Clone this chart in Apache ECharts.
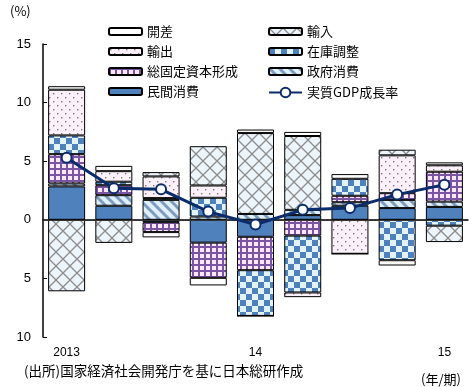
<!DOCTYPE html>
<html>
<head>
<meta charset="utf-8">
<script src="https://cdn.jsdelivr.net/npm/echarts@6/dist/echarts.min.js"></script>
<style>
html,body{margin:0;padding:0;background:#fff;}
#chart{width:474px;height:387px;}
</style>
</head>
<body>
<div id="chart"></div>
<script>
// ---- data ----
var categories = ['2013Q1','2013Q2','2013Q3','2013Q4','2014Q1','2014Q2','2014Q3','2014Q4','2015Q1'];
var tickLabels = ['2013','','','','14','','','','15'];
var privateCons   = [2.85, 1.2, -0.2, -1.95, -1.45, 0.4, 1.2, 1.0, 1.1];
var govCons       = [0.25, 0.9, 1.7, 0.28, 0.5, 0.45, 0.3, 0.7, 0.45];
var gfcf          = [2.5, 0.85, -0.85, -3.0, -2.85, -1.35, 0.55, 0.57, 2.55];
var inventory     = [1.6, 0.3, 0.15, 1.6, -3.9, -4.85, 1.45, -3.45, -0.5];
var exportsC      = [3.9, 0.9, 1.85, 1.05, 0, -0.4, -2.9, 3.23, 0.55];
var importsC      = [-6.1, -1.97, 0.37, 3.35, 6.9, 6.3, 0, 0.48, -1.4];
var discrepancy   = [0.3, 0.45, -0.45, -0.65, 0.3, 0.35, 0.4, -0.45, 0.25];
var gdpGrowth     = [5.3, 2.7, 2.6, 0.7, -0.4, 0.85, 1.0, 2.15, 3.0];
var yTicks = [-10, -5, 0, 5, 10, 15];

// ---- patterns ----
function pat(size, draw) {
  var c = document.createElement('canvas');
  c.width = size; c.height = size;
  var ctx = c.getContext('2d');
  draw(ctx, size);
  return { image: c, repeat: 'repeat' };
}
var pImports = pat(14, function (ctx, s) {
  ctx.fillStyle = '#edf5fc'; ctx.fillRect(0, 0, s, s);
  ctx.strokeStyle = '#8c8c8c'; ctx.lineWidth = 1.3;
  ctx.beginPath();
  ctx.moveTo(0, 0); ctx.lineTo(s, s);
  ctx.moveTo(0, s); ctx.lineTo(s, 0);
  ctx.stroke();
});
var pExports = pat(8, function (ctx, s) {
  ctx.fillStyle = '#fcf1fb'; ctx.fillRect(0, 0, s, s);
  ctx.fillStyle = '#7a7a7a';
  ctx.fillRect(1, 1, 1.4, 1.4);
  ctx.fillRect(5, 5, 1.4, 1.4);
});
var pInventory = pat(12, function (ctx, s) {
  ctx.fillStyle = '#e2f3fc'; ctx.fillRect(0, 0, s, s);
  ctx.fillStyle = '#4f81bd';
  ctx.fillRect(0, 0, 6, 6);
  ctx.fillRect(6, 6, 6, 6);
});
var pGfcf = pat(6, function (ctx, s) {
  ctx.fillStyle = '#fde8fb'; ctx.fillRect(0, 0, s, s);
  ctx.fillStyle = '#7a55a3';
  ctx.fillRect(0, 0, s, 2);
  ctx.fillRect(0, 0, 2, s);
});
var pGov = pat(10, function (ctx, s) {
  ctx.fillStyle = '#dff0fa'; ctx.fillRect(0, 0, s, s);
  ctx.strokeStyle = '#7e9cc0'; ctx.lineWidth = 3;
  ctx.beginPath();
  for (var k = -1; k <= 1; k++) {
    ctx.moveTo(k * s - 2, -2); ctx.lineTo(k * s + s + 2, s + 2);
  }
  ctx.stroke();
});

var NAVY = '#0b2c6b';
var jp = '"Noto Sans CJK JP", sans-serif';
var lat = '"Liberation Sans", Arial, sans-serif';

function barSeries(name, data, color, extra) {
  var s = {
    name: name, type: 'bar', stack: 'total', data: data, barWidth: 37,
    itemStyle: { color: color, borderColor: '#000', borderWidth: 1 },
    emphasis: { disabled: true }
  };
  if (extra) for (var k in extra) s[k] = extra[k];
  return s;
}

var chart = echarts.init(document.getElementById('chart'), null, { renderer: 'canvas' });
var legendText = { fontFamily: jp, fontSize: 13, color: '#000' };
chart.setOption({
  animation: false,
  grid: { left: 43, right: 6, top: 44, bottom: 50 },
  legend: [
    { orient: 'vertical', left: 103, top: 20, itemWidth: 33, itemHeight: 7, itemGap: 7,
      icon: 'roundRect', selectedMode: false, textStyle: legendText,
      data: ['開差', '輸出', '総固定資本形成', '民間消費'] },
    { orient: 'vertical', left: 263, top: 20, itemWidth: 33, itemHeight: 7, itemGap: 7,
      icon: 'roundRect', selectedMode: false, textStyle: legendText,
      data: ['輸入', '在庫調整', '政府消費'] },
    { orient: 'vertical', left: 263, top: 81, itemWidth: 33, itemHeight: 12,
      selectedMode: false, textStyle: legendText,
      data: ['実質GDP成長率'] }
  ],
  xAxis: {
    type: 'category', data: categories,
    axisLine: { lineStyle: { color: '#000', width: 1.5 } },
    axisTick: { inside: true, length: 4, lineStyle: { color: '#000' },
      interval: function (i) { return i === 4 || i === 8; } },
    axisLabel: { interval: 0, margin: 10, fontFamily: lat, fontSize: 12, color: '#000',
      formatter: function (v, i) { return tickLabels[i]; } }
  },
  yAxis: {
    type: 'value', min: yTicks[0], max: yTicks[yTicks.length - 1], interval: 5,
    axisLine: { show: true, lineStyle: { color: '#000', width: 1.5 } },
    axisTick: { show: true, inside: true, length: 4, lineStyle: { color: '#000' } },
    splitLine: { show: false },
    axisLabel: { margin: 12, fontFamily: lat, fontSize: 13, color: '#000',
      formatter: function (v) { return String(Math.abs(v)); } }
  },
  series: [
    barSeries('民間消費', privateCons, '#4f81bd', {
      markLine: { silent: true, symbol: 'none', label: { show: false },
        lineStyle: { color: '#333', width: 1, type: 'solid' }, data: [{ yAxis: 0 }] }
    }),
    barSeries('政府消費', govCons, pGov),
    barSeries('総固定資本形成', gfcf, pGfcf),
    barSeries('在庫調整', inventory, pInventory),
    barSeries('輸出', exportsC, pExports),
    barSeries('輸入', importsC, pImports),
    barSeries('開差', discrepancy, '#ffffff'),
    {
      name: '実質GDP成長率', type: 'line', data: gdpGrowth, z: 10,
      symbol: 'circle', symbolSize: 10,
      lineStyle: { color: NAVY, width: 3 },
      itemStyle: { color: '#ffffff', borderColor: NAVY, borderWidth: 2 },
      emphasis: { disabled: true }
    }
  ],
  graphic: [
    { type: 'text', left: 10, top: 5, style: { text: '(%)', font: '13px ' + jp, fill: '#000' } },
    { type: 'text', left: 24, top: 364, style: { text: '(出所)国家経済社会開発庁を基に日本総研作成', font: '13.5px ' + jp, fill: '#000' } },
    { type: 'text', left: 421, top: 373, style: { text: '(年/期)', font: '13px ' + jp, fill: '#000' } }
  ]
});
</script>
</body>
</html>
